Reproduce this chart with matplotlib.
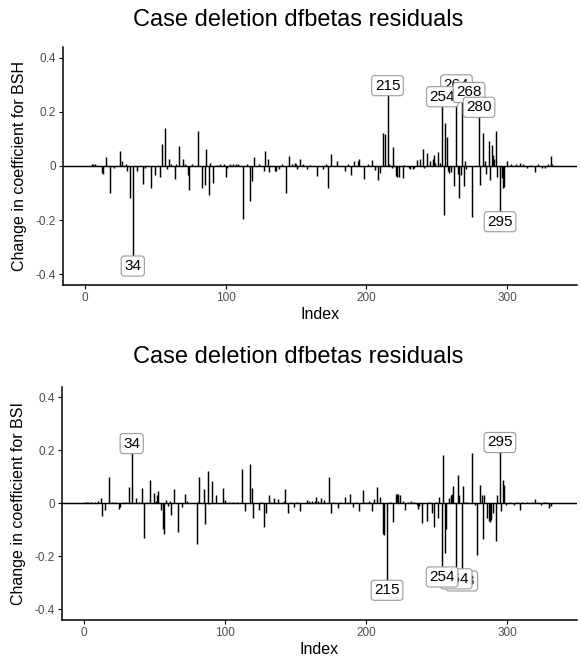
import numpy as np
import matplotlib
matplotlib.use('Agg')
import matplotlib.pyplot as plt

plt.rcParams['font.family'] = ['Liberation Sans', 'DejaVu Sans']

n_obs = 333

# dfbetas for BSH (index, value); cases not listed are ~0
bsh_idx = [5, 6, 7, 12, 13, 15, 18, 21, 25, 26, 29, 30, 32, 34, 37, 41, 43, 47, 50, 53,
           55, 57, 58, 60, 61, 64, 65, 67, 70, 71, 73, 74, 76, 80, 83, 85, 86, 88, 89, 91,
           94, 96, 99, 100, 101, 103, 105, 107, 109, 112, 115, 117, 119, 120, 124, 127, 128, 130, 131, 135,
           136, 138, 140, 143, 145, 147, 149, 150, 151, 153, 155, 158, 160, 165, 169, 171, 173, 175, 179, 185,
           187, 189, 191, 194, 195, 198, 201, 204, 206, 208, 210, 212, 213, 215, 216, 218, 219, 221, 222, 223,
           226, 227, 230, 231, 233, 234, 236, 238, 240, 241, 243, 245, 247, 248, 249, 251, 252, 254, 255, 256,
           257, 258, 259, 260, 262, 264, 265, 266, 267, 268, 269, 270, 271, 275, 280, 281, 283, 284, 285, 287,
           288, 289, 290, 291, 292, 293, 295, 296, 297, 298, 300, 303, 306, 309, 311, 314, 317, 320, 322, 325,
           327, 329, 331, 332]
bsh_val = [0.008, 0.008, 0.008, -0.026, -0.030, 0.033, -0.100, -0.008, 0.056, 0.018, 0.009, -0.020, -0.118, -0.370, -0.020, -0.065, -0.008, -0.081, -0.034, -0.040,
           0.082, 0.140, -0.012, 0.025, 0.009, -0.048, 0.006, 0.075, 0.027, 0.008, -0.032, -0.087, 0.006, 0.131, -0.083, -0.069, 0.063, -0.108, 0.010, -0.063,
           0.005, 0.006, 0.008, -0.040, -0.008, 0.008, 0.008, 0.008, 0.006, -0.195, 0.008, -0.128, -0.056, 0.033, 0.008, -0.020, 0.056, 0.027, -0.022, -0.020,
           -0.018, -0.012, 0.006, -0.100, 0.037, 0.008, 0.012, 0.006, -0.010, 0.026, 0.006, -0.010, 0.004, -0.038, -0.012, 0.006, -0.081, 0.044, 0.018, -0.020,
           0.006, -0.034, 0.018, 0.018, 0.027, -0.048, 0.006, 0.023, -0.016, -0.053, -0.026, 0.123, 0.120, 0.297, 0.008, -0.007, 0.072, -0.038, -0.042, -0.040,
           -0.044, 0.004, -0.008, -0.010, -0.012, -0.008, 0.021, 0.027, 0.064, -0.006, 0.049, 0.020, 0.027, 0.042, 0.010, 0.052, 0.012, 0.256, -0.180, 0.160,
           0.107, -0.020, -0.026, -0.022, -0.074, 0.300, -0.030, -0.120, -0.032, 0.272, -0.074, 0.018, -0.012, -0.188, 0.217, -0.071, 0.123, 0.018, -0.028, 0.093,
           -0.053, 0.077, 0.042, 0.027, 0.129, -0.040, -0.206, -0.045, -0.083, -0.077, 0.018, 0.006, 0.008, 0.012, 0.006, -0.006, 0.004, -0.023, 0.006, -0.008,
           -0.006, 0.006, 0.036, 0.006]

# dfbetas for BSI
bsi_idx = [1, 2, 3, 5, 8, 10, 12, 13, 15, 18, 20, 22, 25, 26, 28, 30, 32, 34, 37, 39,
           41, 43, 45, 47, 50, 51, 52, 53, 55, 56, 57, 58, 60, 61, 62, 64, 67, 70, 72, 73,
           80, 81, 82, 85, 86, 88, 89, 91, 94, 99, 100, 103, 106, 109, 112, 114, 118, 119, 120, 124,
           126, 128, 129, 131, 133, 135, 138, 142, 143, 145, 147, 149, 151, 153, 158, 160, 162, 164, 165, 166,
           168, 170, 174, 175, 177, 180, 182, 185, 187, 189, 191, 193, 195, 198, 200, 202, 204, 206, 208, 210,
           212, 213, 215, 217, 219, 221, 222, 223, 224, 226, 228, 230, 232, 234, 236, 237, 238, 240, 243, 245,
           247, 248, 250, 251, 252, 254, 255, 256, 257, 259, 260, 261, 262, 264, 265, 266, 268, 269, 270, 272,
           275, 277, 279, 281, 282, 283, 284, 286, 287, 288, 289, 290, 292, 293, 295, 296, 297, 298, 299, 302,
           305, 307, 309, 311, 314, 318, 320, 322, 324, 326, 328, 330, 331]
bsi_val = [0.004, 0.005, 0.004, 0.003, 0.004, 0.010, 0.020, -0.048, -0.024, 0.100, 0.004, 0.005, -0.020, -0.016, 0.004, 0.005, 0.061, 0.225, 0.020, 0.004,
           0.057, -0.130, 0.006, 0.088, 0.040, 0.010, 0.030, 0.045, -0.024, -0.098, -0.117, 0.014, -0.010, 0.008, -0.045, 0.055, -0.107, -0.014, 0.036, 0.008,
           -0.154, 0.004, 0.100, 0.052, -0.078, 0.120, -0.004, 0.083, 0.032, 0.058, 0.014, 0.003, 0.004, 0.003, 0.130, -0.029, 0.148, 0.058, -0.055, -0.024,
           0.004, -0.088, -0.038, 0.030, 0.006, 0.020, 0.017, 0.008, 0.052, -0.038, 0.006, -0.014, 0.006, -0.030, 0.014, 0.007, 0.008, 0.008, 0.024, 0.010,
           0.021, 0.012, 0.098, -0.038, 0.006, -0.017, 0.006, 0.024, 0.006, 0.036, -0.014, 0.006, -0.030, 0.051, 0.004, 0.008, -0.030, 0.017, 0.063, 0.024,
           -0.117, -0.120, -0.328, 0.006, -0.070, 0.034, 0.034, 0.036, 0.030, 0.008, -0.024, 0.006, 0.008, 0.006, -0.008, -0.020, -0.010, -0.076, -0.067, 0.004,
           -0.038, -0.088, 0.006, -0.055, 0.024, -0.278, 0.183, -0.188, -0.097, 0.020, 0.030, 0.036, 0.066, -0.285, 0.107, 0.032, -0.293, 0.066, 0.006, 0.004,
           0.188, -0.008, -0.194, 0.070, 0.032, -0.134, 0.032, -0.055, -0.067, -0.070, -0.064, -0.038, -0.142, 0.032, 0.229, -0.030, 0.086, 0.070, -0.006, 0.004,
           -0.006, 0.004, -0.024, 0.004, 0.006, 0.004, 0.017, 0.004, -0.006, 0.004, 0.006, -0.017, -0.010]

# labelled cases, in drawing order (later ones sit on top)
bsh_labels = [34, 215, 295, 264, 254, 268, 280]
bsi_labels = [34, 215, 295, 268, 264, 254]

fig = plt.figure(figsize=(5.81, 6.58), dpi=100)
ax1 = fig.add_axes([0.1084, 0.5669, 0.8846, 0.3617])
ax2 = fig.add_axes([0.1062, 0.0578, 0.8868, 0.3548])


def needle_panel(ax, idx, val, labels, coef, label_dx):
    full = np.zeros(n_obs)
    full[np.array(idx) - 1] = val
    x = np.arange(1, n_obs + 1)
    ax.vlines(x, 0, full, color='black', lw=1.05)
    ax.axhline(0, color='black', lw=1.05)
    for case in labels:
        ax.text(case + label_dx.get(case, 0), full[case - 1], str(case),
                ha='center', va='center', fontsize=11, color='black',
                bbox=dict(boxstyle='round,pad=0.2,rounding_size=0.2',
                          fc='white', ec='#9a9a9a', lw=0.8))
    ax.set_xlim(-15.6, 349.6)
    ax.set_ylim(-0.44, 0.44)
    ax.set_xticks([0, 100, 200, 300])
    ax.set_yticks([-0.4, -0.2, 0, 0.2, 0.4])
    ax.set_yticklabels(['-0.4', '-0.2', '0', '0.2', '0.4'])
    for s in ['top', 'right']:
        ax.spines[s].set_visible(False)
    for s in ['left', 'bottom']:
        ax.spines[s].set_linewidth(1.1)
    ax.tick_params(labelsize=8.5, labelcolor='#4d4d4d', length=3, width=0.8, pad=2)
    ax.set_xlabel('Index', fontsize=11.5, labelpad=2)
    ax.set_ylabel('Change in coefficient for ' + coef, fontsize=11.5)
    ax.yaxis.set_label_coords(-0.07, 0.5)


needle_panel(ax1, bsh_idx, bsh_val, bsh_labels, 'BSH', {268: 5})
needle_panel(ax2, bsi_idx, bsi_val, bsi_labels, 'BSI', {})

fig.text(0.513, 0.969, 'Case deletion dfbetas residuals', ha='center', va='center', fontsize=17)
fig.text(0.513, 0.457, 'Case deletion dfbetas residuals', ha='center', va='center', fontsize=17)

fig.savefig('out.png', dpi=100)
